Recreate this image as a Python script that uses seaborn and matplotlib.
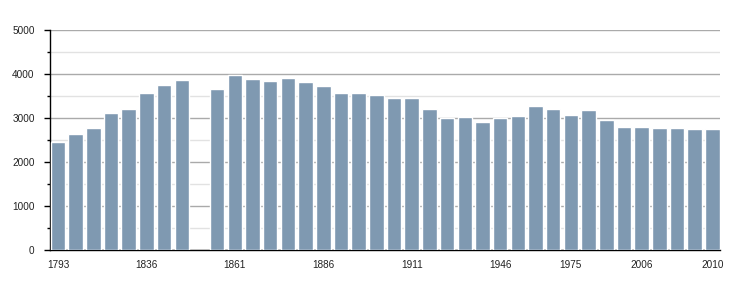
import matplotlib
matplotlib.use("Agg")
import matplotlib.pyplot as plt
import seaborn as sns
import pandas as pd
from matplotlib.ticker import MultipleLocator

years = ["1793", "1800", "1806", "1821", "1831", "1836", "1841", "1846", "1851", "1856",
         "1861", "1866", "1872", "1876", "1881", "1886", "1891", "1896", "1901", "1906",
         "1911", "1921", "1926", "1931", "1936", "1946", "1954", "1962", "1968", "1975",
         "1982", "1990", "1999", "2006", "2007", "2008", "2009", "2010"]
population = [2458, 2640, 2777, 3118, 3209, 3574, 3756, 3870, None, 3665,
              3983, 3892, 3847, 3915, 3824, 3733, 3574, 3574, 3528, 3460,
              3460, 3209, 3005, 3027, 2913, 3005, 3050, 3278, 3209, 3073,
              3187, 2959, 2800, 2800, 2777, 2777, 2754, 2754]
labeled_years = ["1793", "1836", "1861", "1886", "1911", "1946", "1975", "2006", "2010"]

sns.set_theme(style="white")
plt.rcParams['font.family'] = ['Liberation Sans', 'DejaVu Sans']

fig = plt.figure(figsize=(7.5, 3), dpi=100)
ax = fig.add_axes([50 / 750, 1 - 250 / 300, 670 / 750, 220 / 300])

df = pd.DataFrame({"year": years, "pop": population}).dropna()
sns.barplot(data=df, x="year", y="pop", order=years, color="#7f99b1",
            saturation=1, width=0.82, errorbar=None, ax=ax, zorder=3)

ax.set_xlim(-0.45, len(years) - 0.57)
ax.set_ylim(0, 5000)
ax.yaxis.set_major_locator(MultipleLocator(1000))
ax.yaxis.set_minor_locator(MultipleLocator(500))
ax.grid(which="major", axis="y", color="#aaaaaa", lw=1, zorder=0)
ax.grid(which="minor", axis="y", color="#e2e2e2", lw=1, zorder=0)
ax.grid(which="major", axis="x", visible=False)
ax.set_axisbelow(True)

pos = [years.index(y) for y in labeled_years]
ax.set_xticks(pos)
ax.set_xticklabels(labeled_years)
ax.set_xlabel("")
ax.set_ylabel("")

for s in ["top", "right"]:
    ax.spines[s].set_visible(False)
for s in ["left", "bottom"]:
    ax.spines[s].set_color("black")
    ax.spines[s].set_linewidth(1)

ax.tick_params(axis="y", which="major", left=True, length=4, width=1, color="black",
               labelsize=7.2, pad=7, labelcolor="#222222")
ax.tick_params(axis="y", which="minor", left=True, length=2.5, width=1, color="black")
ax.tick_params(axis="x", which="major", bottom=False, labelsize=7.2, pad=1.5, labelcolor="#222222")

fig.savefig("out.png", dpi=100)
